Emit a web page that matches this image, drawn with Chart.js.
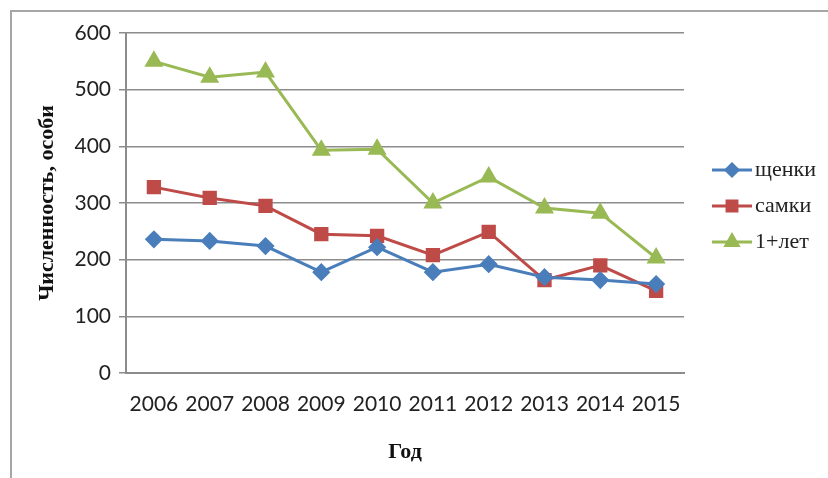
<!DOCTYPE html>
<html>
<head>
<meta charset="utf-8">
<script src="https://cdn.jsdelivr.net/npm/chart.js@4.4.0/dist/chart.umd.min.js"></script>
<style>
  html, body { margin: 0; padding: 0; background: #fff; overflow: hidden; }
  #wrap { position: relative; width: 828px; height: 478px; }
  #frame { position: absolute; left: 10px; top: 10px; width: 830px; height: 480px; border: 2px solid #a6a6a6; box-sizing: border-box; }
  canvas { position: absolute; left: 0; top: 0; }
</style>
</head>
<body>
<div id="wrap">
  <div id="frame"></div>
  <canvas id="myChart" width="828" height="478"></canvas>
</div>
<script>
// data
const years = ['2006', '2007', '2008', '2009', '2010', '2011', '2012', '2013', '2014', '2015'];
const pups = [236, 233, 224, 178, 222, 178, 192, 169, 164, 157];
const females = [328, 309, 295, 245, 242, 208, 249, 164, 190, 145];
const adults = [550, 522, 531, 393, 395, 300, 346, 291, 282, 203];
const seriesNames = ['щенки', 'самки', '1+лет'];
const yTicks = [0, 100, 200, 300, 400, 500, 600];

const tickFont = { family: 'Lato, "Liberation Sans", sans-serif', size: 21 };
const serif = '"Liberation Serif", "DejaVu Serif", serif';

// legend with line + marker, like the original
const lineLegend = {
  id: 'lineLegend',
  afterDraw(chart) {
    const ctx = chart.ctx;
    const x0 = 712, rows = [170, 206, 242];
    chart.data.datasets.forEach((ds, i) => {
      const y = rows[i];
      ctx.save();
      ctx.strokeStyle = ds.borderColor;
      ctx.lineWidth = 3;
      ctx.beginPath();
      ctx.moveTo(x0, y);
      ctx.lineTo(x0 + 40, y);
      ctx.stroke();
      ctx.fillStyle = ds.pointBackgroundColor;
      ctx.strokeStyle = ds.pointBackgroundColor;
      Chart.helpers.drawPoint(ctx, {
        pointStyle: ds.pointStyle,
        radius: ds.pointRadius - 1,
        borderWidth: 1
      }, x0 + 20, y);
      ctx.fillStyle = '#222';
      ctx.font = '22px ' + serif;
      ctx.textBaseline = 'middle';
      ctx.fillText(ds.label, x0 + 43, y);
      ctx.restore();
    });
  }
};

const ctx = document.getElementById('myChart').getContext('2d');
new Chart(ctx, {
  type: 'line',
  data: {
    labels: years,
    datasets: [
      {
        label: seriesNames[0],
        data: pups,
        borderColor: '#4a7ebb',
        pointBackgroundColor: '#4a7ebb',
        pointBorderColor: '#4a7ebb',
        pointStyle: 'rectRot',
        pointRadius: 7,
        borderWidth: 3,
        fill: false
      },
      {
        label: seriesNames[1],
        data: females,
        borderColor: '#be4b48',
        pointBackgroundColor: '#be4b48',
        pointBorderColor: '#be4b48',
        pointStyle: 'rect',
        pointRadius: 8,
        borderWidth: 3,
        fill: false
      },
      {
        label: seriesNames[2],
        data: adults,
        borderColor: '#98b954',
        pointBackgroundColor: '#98b954',
        pointBorderColor: '#98b954',
        pointStyle: 'triangle',
        pointRadius: 8,
        borderWidth: 3,
        fill: false
      }
    ]
  },
  options: {
    responsive: false,
    animation: false,
    layout: { padding: { left: 30, right: 144, top: 33, bottom: 0 } },
    plugins: {
      legend: { display: false },
      tooltip: { enabled: false }
    },
    scales: {
      x: {
        offset: true,
        grid: { display: false, drawTicks: false },
        border: { display: true, color: '#8c8c8c', width: 2 },
        ticks: { color: '#222', font: tickFont, padding: 19, maxRotation: 0 },
        title: {
          display: true,
          text: 'Год',
          color: '#111',
          font: { family: serif, size: 22, weight: 'bold' },
          padding: { top: 12, bottom: 12 }
        },
        afterFit(scale) { scale.height = 105; }
      },
      y: {
        min: 0,
        max: 600,
        afterBuildTicks(scale) { scale.ticks = yTicks.map(v => ({ value: v })); },
        grid: { color: '#8c8c8c', lineWidth: 1.5, tickLength: 7, drawOnChartArea: true },
        border: { display: true, color: '#8c8c8c', width: 2 },
        ticks: { color: '#222', font: tickFont, padding: 8 },
        title: {
          display: true,
          text: 'Численность, особи',
          color: '#111',
          font: { family: serif, size: 22, weight: 'bold' },
          padding: { bottom: 14 }
        },
        afterFit(scale) { scale.width = 96; }
      }
    }
  },
  plugins: [lineLegend]
});
</script>
</body>
</html>
